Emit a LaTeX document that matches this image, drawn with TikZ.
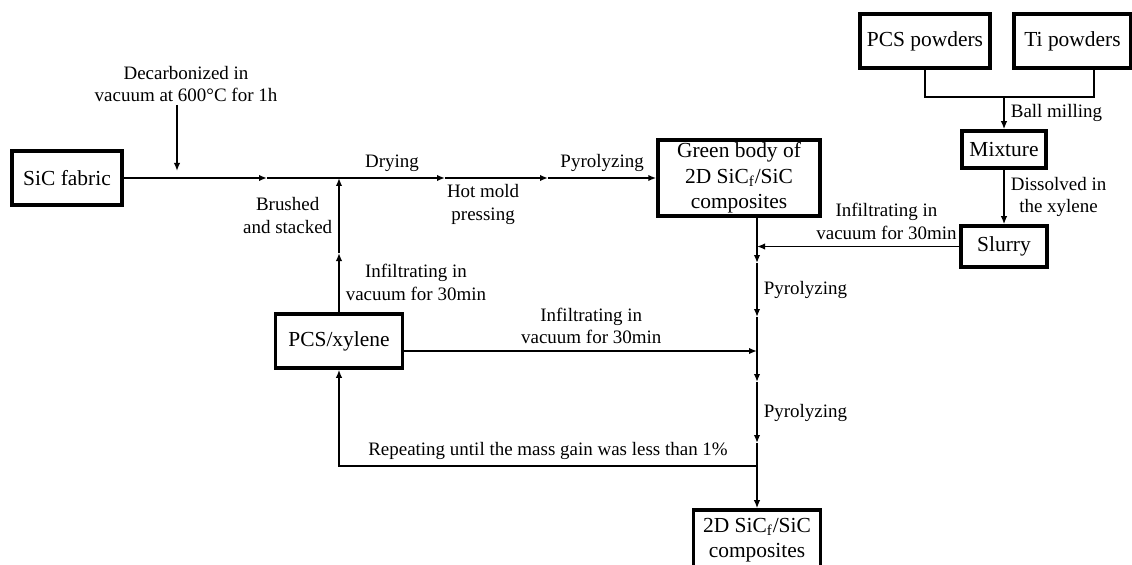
\documentclass[tikz,border=0pt]{standalone}
\usepackage{fontspec}
\setmainfont{Liberation Serif}
\usetikzlibrary{arrows.meta}

\begin{document}
\begin{tikzpicture}[every node/.style={font=\fontsize{10.8}{13}\selectfont, align=center}, >={Latex[length=1.6mm, width=1.3mm]},
	stepbox/.style={draw, line width=2pt, inner sep=0pt, font=\fontsize{12.2}{14.5}\selectfont},
	flow/.style={->, line width=1.1pt}]
	\useasboundingbox (0,0) rectangle (22.64,11.28);
	% boxes
	\node[stepbox, minimum width=2.2cm, minimum height=1.08cm] (fabric) at (1.34,7.72) {SiC fabric};
	\node[stepbox, minimum width=3.24cm, minimum height=1.52cm] (green) at (14.78,7.72) {Green body of\\ 2D SiC\textsubscript{f}/SiC\\ composites};
	\node[stepbox, minimum width=2.54cm, minimum height=1.08cm] (pcsx) at (6.78,4.46) {PCS/xylene};
	\node[stepbox, minimum width=2.6cm, minimum height=1.08cm] (pcspow) at (18.5,10.46) {PCS powders};
	\node[stepbox, minimum width=2.34cm, minimum height=1.08cm] (tipow) at (21.45,10.46) {Ti powders};
	\node[stepbox, minimum width=1.68cm, minimum height=0.74cm] (mixture) at (20.08,8.29) {Mixture};
	\node[stepbox, minimum width=1.72cm, minimum height=0.82cm] (slurry) at (20.08,6.35) {Slurry};
	\node[stepbox, minimum width=2.54cm, minimum height=1.2cm] (final) at (15.14,0.48) {2D SiC\textsubscript{f}/SiC\\ composites};
	% points on the lines
	\coordinate (decA) at (3.54,9.18);
	\coordinate (decB) at (3.54,7.86);
	\coordinate (c1) at (5.34,7.72);
	\coordinate (j1) at (6.78,7.72);
	\coordinate (c2) at (8.9,7.72);
	\coordinate (c3) at (10.96,7.72);
	\coordinate (b1) at (6.78,6.22);
	\coordinate (t1) at (15.14,6.02);
	\coordinate (t2) at (15.14,4.94);
	\coordinate (j2) at (15.14,4.26);
	\coordinate (t3) at (15.14,3.64);
	\coordinate (t4) at (15.14,2.42);
	\coordinate (lp) at (15.14,1.96);
	\coordinate (merge) at (20.08,9.34);
	\coordinate (tiout) at (21.88,9.92);
	% main line
	\node (declbl) at (3.72,9.6) {Decarbonized in\\ vacuum at 600°C for 1h};
	\draw[flow] (decA) -- (decB);
	\draw[flow] (fabric.east) -- (c1);
	\draw[flow] (c1) -- (j1) -- (c2) node[midway, above] {Drying};
	\draw[flow] (c2) -- (c3) node[pos=0.37, below] {Hot mold\\ pressing};
	\draw[flow] (c3) -- (green.west) node[midway, above] {Pyrolyzing};
	\draw[flow] (pcsx.north) -- (b1) node[midway, right] {Infiltrating in\\ vacuum for 30min};
	\draw[flow] (b1) -- (j1) node[midway, left] {Brushed\\ and stacked};
	% trunk
	\draw[flow] (t1 |- green.south) -- (t1);
	\draw[flow] (t1) -- (t2) node[midway, right] {Pyrolyzing};
	\draw[flow] (t2) -- (t3);
	\draw[flow] (t3) -- (t4) node[midway, right] {Pyrolyzing};
	\draw[flow] (t4) -- (final.north);
	\draw[flow] (pcsx.east |- j2) -- (j2) node[pos=0.53, above] {Infiltrating in\\ vacuum for 30min};
	\draw[flow] (lp) -| (pcsx.south) node[pos=0.25, above] {Repeating until the mass gain was less than 1\%};
	% slurry side
	\draw[line width=1.1pt] (pcspow.south) |- (merge) -| (tiout);
	\draw[flow] (merge) -- (mixture.north) node[midway, right] {Ball milling};
	\draw[flow] (mixture.south) -- (slurry.north) node[midway, right] {Dissolved in\\ the xylene};
	\draw[flow] (slurry.west) -- (slurry.west -| t1) node[pos=0.36, above] {Infiltrating in\\ vacuum for 30min};
\end{tikzpicture}
\end{document}
